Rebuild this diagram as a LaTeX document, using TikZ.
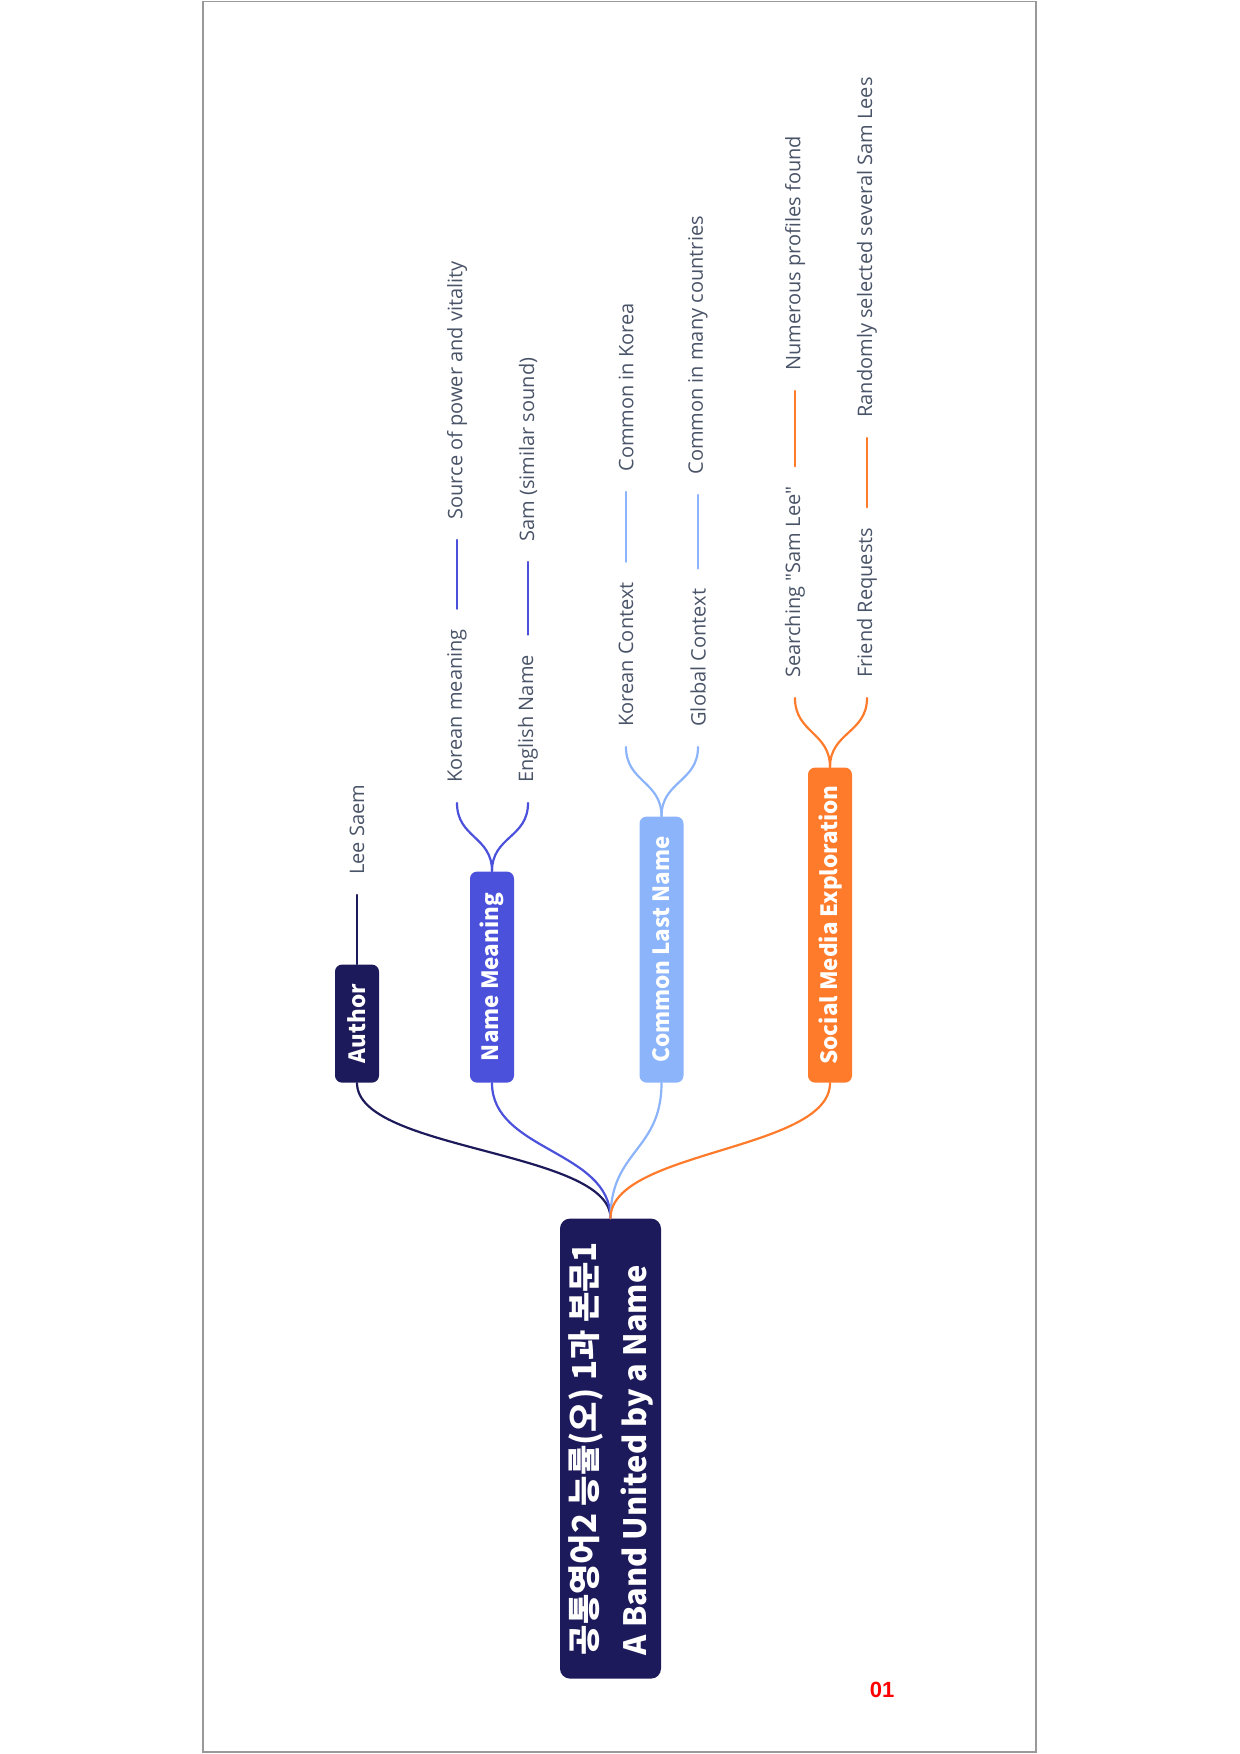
\documentclass[tikz,border=0pt]{standalone}
\usepackage{fontspec}
\newfontfamily\cjk{Noto Sans CJK KR}
\newfontfamily\leaffont{Open Sans}
\newfontfamily\numfont{Liberation Sans}
\definecolor{navy}{HTML}{1C1A5A}
\definecolor{royal}{HTML}{4B51DB}
\definecolor{lightb}{HTML}{8CB4FA}
\definecolor{orng}{HTML}{FF7B2C}
\definecolor{leafgray}{HTML}{4A5468}
\tikzset{
  rootbox/.style={rotate=90, anchor=west, fill=navy, text=white, rounded corners=5pt,
    font=\cjk\bfseries\fontsize{16.5}{25}\selectfont, align=left,
    minimum height=50.5pt, minimum width=230pt, inner xsep=10pt},
  branchbox/.style={rotate=90, anchor=west, fill=#1, text=white, rounded corners=3.5pt,
    font=\cjk\bfseries\fontsize{11.2}{14}\selectfont, minimum height=22pt, inner xsep=6pt},
  leaf/.style={rotate=90, anchor=west, text=leafgray, inner xsep=10pt, inner ysep=2pt,
    font=\leaffont\fontsize{10}{12}\selectfont},
  conn/.style={draw=#1, line width=1.1pt, line cap=round},
}
\begin{document}
\begin{tikzpicture}[x=0.5pt,y=-0.5pt]
\useasboundingbox (0,0) rectangle (1240,1754);
\draw[gray!80, line width=0.8pt] (203,1.5) rectangle (1036,1752);

% root
\node[rootbox] (root) at (610.5,1679) {공통영어2 능률(오) 1과 본문1\\{\fontsize{15.4}{25}\selectfont A Band United by a Name}};

% branches
\node[branchbox=navy, minimum width=59pt] (author) at (357,1083) {Author};
\node[branchbox=royal, minimum width=105.5pt] (meaning) at (492,1083) {Name Meaning};
\node[branchbox=lightb, minimum width=133pt] (common) at (661.5,1083) {Common Last Name};
\node[branchbox=orng, minimum width=157.5pt] (social) at (830,1083) {Social Media Exploration};

\foreach \b/\c in {author/navy, meaning/royal, common/lightb, social/orng}
  \draw[conn=\c] (root.east) .. controls +(0,-68) and +(0,68) .. (\b.west);

% leaves
\node[leaf] (lee) at (357,895) {Lee Saem};
\draw[conn=navy] (author.east) -- (lee.west);

\node[leaf] (km) at (457,803) {Korean meaning};
\node[leaf] (src) at (457,540) {Source of power and vitality};
\node[leaf] (en) at (528,803) {English Name};
\node[leaf] (sam) at (528,562) {Sam (similar sound)};
\draw[conn=royal] (meaning.east) .. controls +(0,-35) and +(0,35) .. (km.west);
\draw[conn=royal] (meaning.east) .. controls +(0,-35) and +(0,35) .. (en.west);
\draw[conn=royal] (km.east) -- (src.west);
\draw[conn=royal] (en.east) -- (sam.west);

\node[leaf] (kc) at (626,747) {Korean Context};
\node[leaf] (cik) at (626,492) {Common in Korea};
\node[leaf] (gc) at (698,747) {Global Context};
\node[leaf] (cimc) at (698,495) {Common in many countries};
\draw[conn=lightb] (common.east) .. controls +(0,-35) and +(0,35) .. (kc.west);
\draw[conn=lightb] (common.east) .. controls +(0,-35) and +(0,35) .. (gc.west);
\draw[conn=lightb] (kc.east) -- (cik.west);
\draw[conn=lightb] (gc.east) -- (cimc.west);

\node[leaf] (srch) at (795,698) {Searching "Sam Lee"};
\node[leaf] (num) at (795,391) {Numerous profiles found};
\node[leaf] (fr) at (867,698) {Friend Requests};
\node[leaf] (rand) at (867,438) {Randomly selected several Sam Lees};
\draw[conn=orng] (social.east) .. controls +(0,-35) and +(0,35) .. (srch.west);
\draw[conn=orng] (social.east) .. controls +(0,-35) and +(0,35) .. (fr.west);
\draw[conn=orng] (srch.east) -- (num.west);
\draw[conn=orng] (fr.east) -- (rand.west);

\node[text=red, font=\numfont\bfseries\fontsize{11}{13}\selectfont] (pg) at (882,1690) {01};
\end{tikzpicture}
\end{document}
